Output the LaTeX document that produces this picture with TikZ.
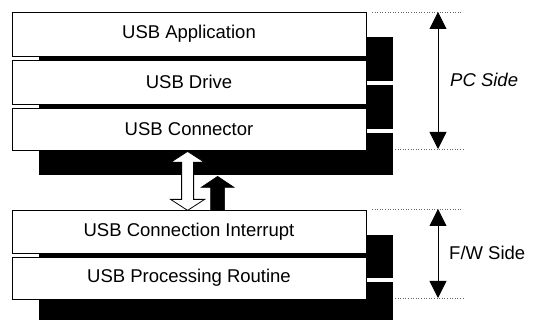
\documentclass[tikz,border=0pt]{standalone}
\usepackage{fontspec}
\setmainfont{Liberation Sans}
\usetikzlibrary{shadows,arrows.meta,calc}
\tikzset{
  layer/.style={draw=black, line width=0.8pt, fill=white, rectangle, inner sep=0pt,
    minimum width=354pt, font=\fontsize{18.5}{22}\selectfont,
    drop shadow={shadow xshift=27pt, shadow yshift=-25pt, fill=black, opacity=1}},
  guide/.style={dotted, line width=0.6pt, draw=black!60},
  span/.style={line width=0.8pt, {Triangle[width=17pt,length=17pt]}-{Triangle[width=17pt,length=17pt]}},
  sidelabel/.style={anchor=west, inner sep=0pt, font=\fontsize{18.5}{22}\selectfont},
  whitearrow/.style={draw=black, line width=0.8pt, fill=white},
  blackarrow/.style={draw=black, line width=0.6pt, fill=black}
}
\begin{document}
\begin{tikzpicture}[x=1pt, y=-1pt]
\useasboundingbox (0,0) rectangle (533,320);
\clip (0,0) rectangle (533,320);
% layers
\node[layer, minimum height=44pt] (b1) at (189,34) {USB Application};
\node[layer, minimum height=44pt] (b2) at (189,82) {USB Drive};
\node[layer, minimum height=42pt] (b3) at (189,129) {USB Connector};
\node[layer, minimum height=43pt] (b4) at (189,231.5) {USB Connection Interrupt};
\node[layer, minimum height=42pt] (b5) at (189,278) {USB Processing Routine};
% middle arrows between b3 and b4
\begin{scope}[shift={(b3.south west)}]
  % white double arrow (local coords: x from box left, y down from b3 bottom)
  \draw[whitearrow] (176,1) -- (193,12) -- (182,12) -- (182,49) -- (193,49) -- (176,60)
     -- (159,49) -- (170,49) -- (170,12) -- (159,12) -- cycle;
  % black up arrow
  \fill[blackarrow] (206,26) -- (222.5,37) -- (213,37) -- (213,60) -- (199,60) -- (199,37)
     -- (189.5,37) -- cycle;
\end{scope}
% guides and spans
\coordinate (pt) at (438,12);
\coordinate (pb) at (438,149);
\coordinate (ft) at (438,209);
\coordinate (fb) at (438,298);
\draw[guide] (372,12) -- (463,12);
\draw[guide] (395,149) -- (463,149);
\draw[guide] (372,209) -- (463,209);
\draw[guide] (395,298) -- (463,298);
\draw[span] (pt) -- (pb);
\draw[span] (ft) -- (fb);
\node[sidelabel] (pc) at (450,80) {\itshape PC Side};
\node[sidelabel] (fw) at (449,253) {F/W Side};
\end{tikzpicture}
\end{document}
